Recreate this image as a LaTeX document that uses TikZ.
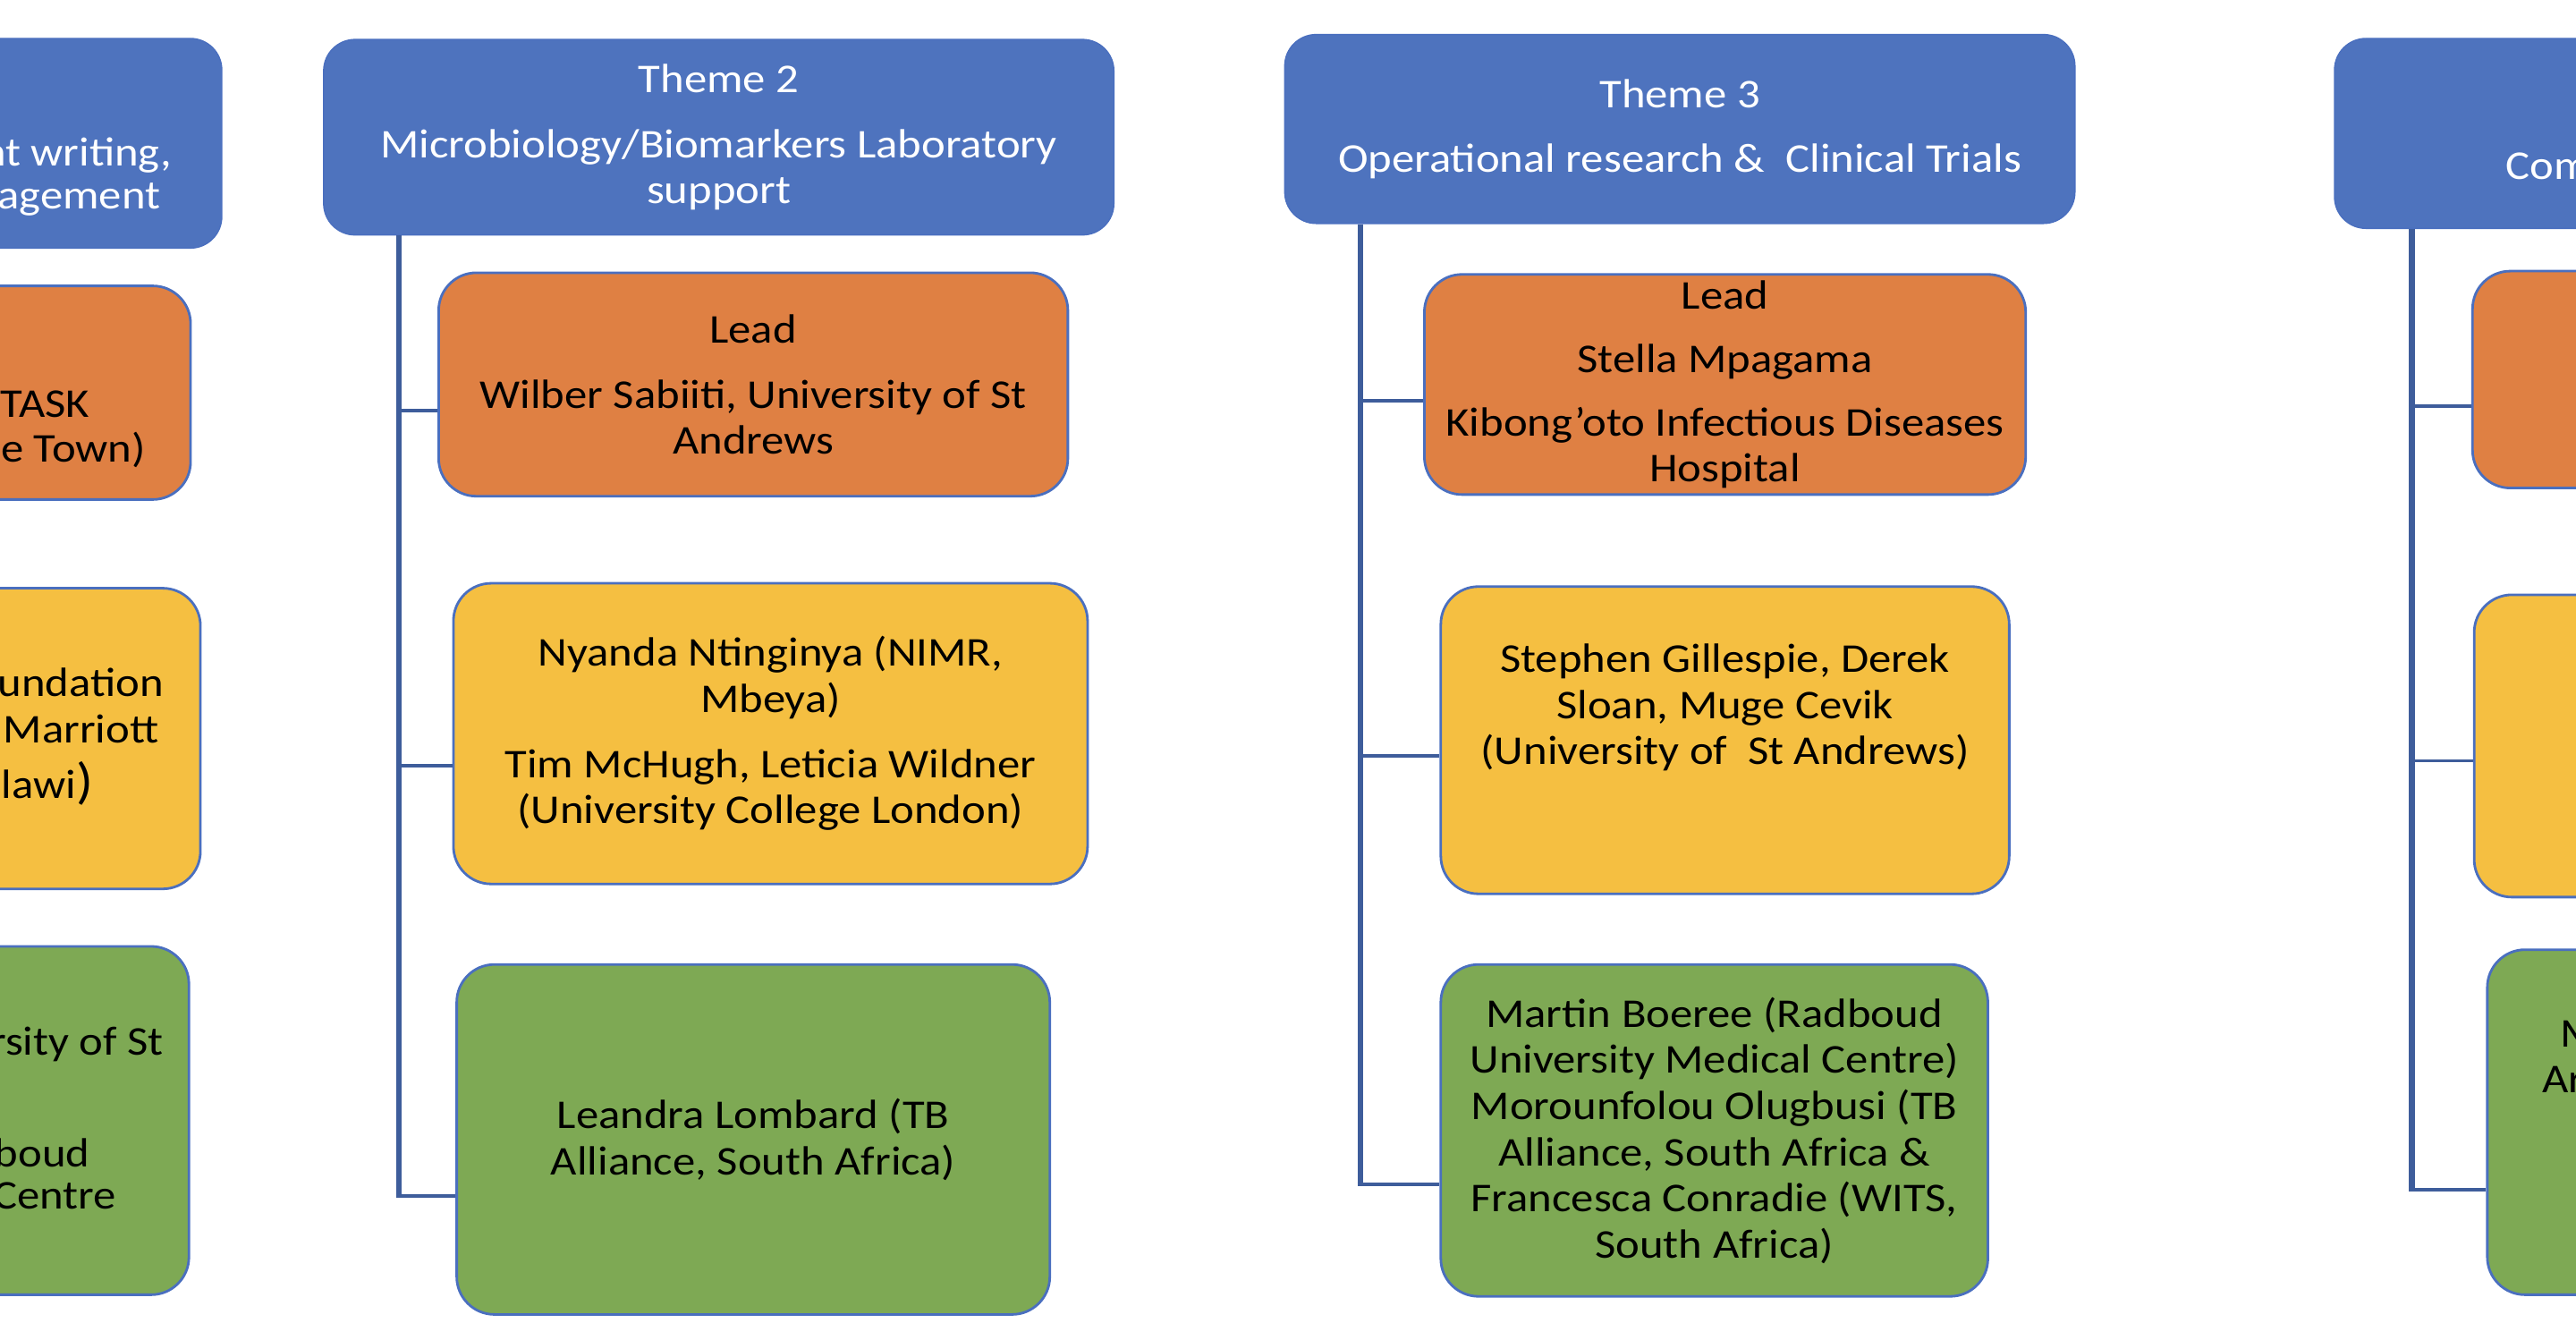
\documentclass[tikz,border=0pt]{standalone}
\usepackage{fontspec}
\setmainfont[FakeStretch=1.11]{Carlito}
\usetikzlibrary{fit}
\definecolor{hdr}{HTML}{4E73BE}
\definecolor{org}{HTML}{DF8043}
\definecolor{yel}{HTML}{F5BF41}
\definecolor{grn}{HTML}{7EA954}
\definecolor{edge}{HTML}{4A6FBF}
\definecolor{conn}{HTML}{3E5D9B}
\begin{document}
\begin{tikzpicture}[x=0.01837cm,y=-0.01837cm,
  every node/.style={font=\fontsize{13}{14.7}\selectfont},
  hbox/.style={fill=hdr, draw=edge, line width=0.4pt, rounded corners=10pt, inner sep=0pt},
  bbox/.style={draw=edge, line width=0.8pt, rounded corners=12pt, inner sep=0pt},
  obox/.style={bbox, fill=org},
  ybox/.style={bbox, fill=yel},
  gbox/.style={bbox, fill=grn},
  txt/.style={inner sep=0pt, align=center, text=black},
  wtxt/.style={txt, text=white},
  trunk/.style={draw=conn, line width=1.8pt},
  branch/.style={draw=conn, line width=1.1pt},
  partl/.style={inner sep=0pt, text=black, anchor=base east},
  partr/.style={inner sep=0pt, text=black, anchor=base west}
]
\useasboundingbox (0,0) rectangle (1568,815.5);
\clip (0,0) rectangle (1568,815.5);

% ---------- column 1 (cut at left) ----------
\node[hbox, fit={(-346,23.4) (135,151)}] (h1) {};
\node[obox, fit={(-270,174) (116,304)}] (o1) {};
\node[ybox, fit={(-270,358) (122,541)}] (y1) {};
\node[gbox, fit={(-270,576) (115,788)}] (g1) {};
\node[partl, text=white] (h1a) at (105,101) {nt writing,};
\node[partl, text=white] (h1b) at (98,127) {agement};
\node[partl] (o1a) at (55,254) {TASK};
\node[partl] (o1b) at (89,281) {e Town)};
\node[partl] (y1a) at (100,424) {undation};
\node[partl] (y1b) at (97,452) {Marriott};
\node[partl] (y1c) at (57,486) {lawi{\fontsize{16}{16}\selectfont )}};
\node[partl] (g1a) at (100,642) {rsity of St};
\node[partl] (g1b) at (55,710) {boud};
\node[partl] (g1c) at (71,736) {Centre};

% ---------- column 2 ----------
\node[hbox, fit={(197,24) (678,143)}] (h2) {};
\node[wtxt] (h2t) at (h2.center) {Theme 2\\[6pt]Microbiology/Biomarkers Laboratory\\support};
\node[obox, fit={(267,166) (650,302)}] (o2) {};
\node[txt] (o2t) at (o2.center) {Lead\\[6pt]Wilber Sabiiti, University of St\\Andrews};
\node[ybox, fit={(276,355) (662,538)}] (y2) {};
\node[txt] (y2t) at (y2.center) {Nyanda Ntinginya (NIMR,\\Mbeya)\\[6pt]Tim McHugh, Leticia Wildner\\(University College London)};
\node[gbox, fit={(278,587) (639,800)}] (g2) {};
\node[txt] (g2t) at (g2.center) {Leandra Lombard (TB\\Alliance, South Africa)};
\coordinate (b2o) at (243,250);
\coordinate (b2y) at (243,466);
\coordinate (b2g) at (243,728);
\draw[trunk] (h2.south -| b2g) -- (b2g);
\draw[branch] (b2o) -- (b2o -| o2.west);
\draw[branch] (b2y) -- (b2y -| y2.west);
\draw[branch] ([xshift=-0.9pt]b2g) -- (b2g -| g2.west);

% ---------- column 3 ----------
\node[hbox, fit={(782,21) (1263,136)}] (h3) {};
\node[wtxt] (h3t) at (h3.center) {Theme 3\\[6pt]Operational research \& \ Clinical Trials};
\node[obox, fit={(867,167) (1233,301)}] (o3) {};
\node[txt] (o3t) at (o3.center) {Lead\\[5.5pt]Stella Mpagama\\[5.5pt]Kibong’oto Infectious Diseases\\Hospital};
\node[ybox, fit={(877,357) (1223,544)}] (y3) {};
\node[txt] (y3t) at ([yshift=10.4pt]y3.center) {Stephen Gillespie, Derek\\Sloan, Muge Cevik\\(University of \ St Andrews)};
\node[gbox, fit={(877,587) (1210,789)}] (g3) {};
\node[txt] (g3t) at (g3.center) {Martin Boeree (Radboud\\University Medical Centre)\\Morounfolou Olugbusi (TB\\Alliance, South Africa \&\\Francesca Conradie (WITS,\\South Africa)};
\coordinate (b3o) at (828,244);
\coordinate (b3y) at (828,460);
\coordinate (b3g) at (828,721);
\draw[trunk] (h3.south -| b3g) -- (b3g);
\draw[branch] (b3o) -- (b3o -| o3.west);
\draw[branch] (b3y) -- (b3y -| y3.west);
\draw[branch] ([xshift=-0.9pt]b3g) -- (b3g -| g3.west);

% ---------- column 4 (cut at right) ----------
\node[hbox, fit={(1421,23.4) (1902,139)}] (h4) {};
\node[obox, fit={(1505,165) (1900,297)}] (o4) {};
\node[ybox, fit={(1506,362) (1900,546)}] (y4) {};
\node[gbox, fit={(1514,578) (1900,788)}] (g4) {};
\node[partr, text=white] (h4a) at (1525,109) {Com};
\node[partr] (g4a) at (1558,637) {M};
\node[partr] (g4b) at (1547,665) {Ar};
\coordinate (b4o) at (1468,247);
\coordinate (b4y) at (1468,463);
\coordinate (b4g) at (1468,724);
\draw[trunk] (h4.south -| b4g) -- (b4g);
\draw[branch] (b4o) -- (b4o -| o4.west);
\draw[branch] (b4y) -- (b4y -| y4.west);
\draw[branch] ([xshift=-0.9pt]b4g) -- (b4g -| g4.west);
\end{tikzpicture}
\end{document}
